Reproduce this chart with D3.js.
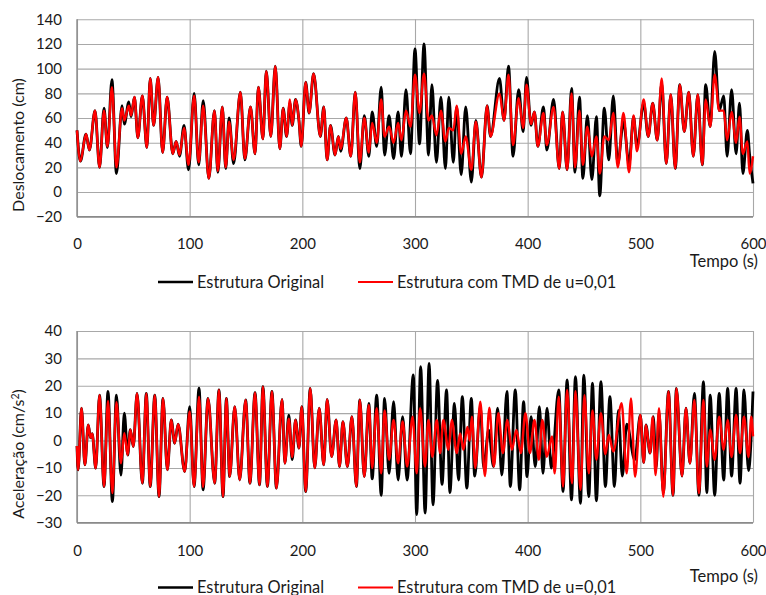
<!DOCTYPE html>
<html>
<head>
<meta charset="utf-8">
<script src="https://cdn.jsdelivr.net/npm/d3@7"></script>
<style>
  body { margin: 0; background: #ffffff; }
  svg text { font-family: Lato, "Open Sans", sans-serif; fill: #1a1a1a; }
</style>
</head>
<body>
<svg id="chart" width="766" height="595"></svg>
<script>
// Displacement (cm): both structures sampled at the same instants (s)
const dispTime = [
  0,3,8,11,16,20,24,27,31,35,
  40,42,46,48,51,54,58,62,65,68,
  72,76,80,85,88,91,95,99,104,108,
  112,117,122,125,129,132,135,139,145,149,
  154,158,161,165,168,172,176,180,183,186,
  189,191,194,197,199,203,206,210,216,219,
  222,225,229,232,234,239,243,247,251,255,
  259,262,266,270,273,277,281,285,288,292,
  296,300,304,308,312,315,319,323,327,330,
  334,337,341,345,350,354,359,364,367,375,
  379,383,387,392,396,399,403,406,409,414,
  417,423,428,431,435,439,442,446,449,453,
  457,461,464,468,472,476,480,485,490,494,
  497,503,507,511,515,519,523,527,531,535,
  539,543,547,551,555,558,562,566,570,574,
  577,581,585,588,591,595,597,600
];
const dispOriginal = [
  50,25,47,34,66,20,68,36,91,15,
  70,55,73,61,77,44,78,36,92,54,
  93,32,77,31,41,29,54,18,80,22,
  74,11,66,16,69,19,60,23,81,26,
  69,31,85,43,98,45,102,35,68,45,
  72,54,75,58,37,89,64,96,45,69,
  26,54,30,45,33,60,29,81,19,62,
  29,65,37,85,30,62,27,65,29,83,
  31,116,39,120,30,87,24,77,19,77,
  24,69,14,69,8,58,12,70,45,92,
  58,102,29,83,49,93,54,65,37,69,
  34,75,19,65,18,84,16,77,11,62,
  10,61,-3,68,26,78,23,57,23,61,
  37,72,45,72,42,88,23,79,19,87,
  49,81,29,79,22,87,53,114,66,78,
  29,83,31,72,15,50,30,7
];
const dispTmd = [
  50,25,47,34,66,20,66,37,85,20,
  68,58,70,62,77,44,78,36,92,54,
  93,32,77,31,41,30,52,22,78,24,
  70,11,66,17,69,20,57,26,81,27,
  69,31,85,43,98,45,102,35,68,45,
  75,54,75,58,37,89,64,96,45,69,
  26,54,30,45,35,60,29,81,24,60,
  32,56,40,75,45,53,40,56,42,66,
  53,95,64,96,58,62,46,66,41,52,
  50,70,31,45,18,57,12,70,45,80,
  58,95,38,76,52,87,55,65,37,64,
  38,69,19,65,18,80,20,66,22,53,
  29,45,15,45,42,64,20,64,16,62,
  33,75,45,72,42,92,23,79,19,87,
  49,81,29,79,22,75,53,95,66,66,
  42,65,40,61,31,41,15,29
];

// Acceleration (cm/s²), original structure
const accTimeOriginal = [
  0,1,4,7,10,12,13.5,16.6,20,24,
  27.5,31.4,35,39,42,45,47.3,50,53.3,58,
  61.5,65,69,72.8,76.3,80.2,83.7,86.7,89.7,95.6,
  100,103.9,108.3,111.9,116.3,122.2,126,129.6,132.6,135.5,
  140,144.4,149.7,153.5,158,162,165,169,173,177,
  182,184.5,188,191,194,197,199.5,203,207,211,
  215,219,222,226,230,233,236,240,244,248,
  251,255,259,262,266,270,273,277,281,285,
  289,293,298.5,301.5,305,309,312.5,316,320,324,
  328,331,335,338.6,342,346,350,353,358,361,
  365.3,369.7,373.3,377.1,381.6,384.6,389,392.9,396.4,399.4,
  403,406.8,410.4,413.6,417.2,421,427.6,431.4,435,438.9,
  442.4,446.9,449.8,454.3,457.5,461,465,469,473,477,
  480.5,484,488,495,500,503,505,508.6,511.5,514,
  516.6,520.4,525,529,532,537,540.5,544,548,552,
  556,559,562,566,570,574,577.5,581,585,588.5,
  592,596,600
];
const accOriginal = [
  -2,-10.7,11.8,-8.9,5.7,1,2.5,-10.1,16.6,-16.8,
  17.9,-22.3,16.6,-12.6,10,-5.3,4,-2.2,17.2,-15.6,
  17.2,-16.8,16.6,-20.5,15.4,-10.7,7.5,-1,6,-11.3,
  12.4,-16.8,19.1,-18,15.4,-15.6,18.5,-20.5,15.4,-13.2,
  12.4,-14.4,14.8,-15.6,17.5,-16.2,19.7,-16.8,17.9,-17.4,
  15,-8.3,9.3,-7,7.5,-2.8,12.4,-18.6,19,-10,
  11.8,-8.9,15,-5.9,7.5,-9.5,6.9,-9.5,8.7,-16.8,
  14.8,-13.2,13.6,-14,16.6,-20,15.4,-12,14.2,-14.4,
  8.7,-14.4,24,-27,27,-26.5,28.2,-23.5,22,-16,
  18.5,-19,13.6,-14.4,16,-17.4,15.4,-13,12.4,-10,
  3.9,-9.5,11.8,-12.6,17.9,-16.8,18.5,-18,14.2,-13.2,
  8.7,-9.5,12.4,-12,11.8,-10.1,18.5,-18.6,22.1,-21.7,
  23.3,-22.9,23.9,-20.5,21,-22,21.5,-16.8,16,-16.8,
  11,-13,6,-7,9.3,-8,5.7,-4.6,8.7,-10,
  10,-19,17.9,-20,19,-13,11.8,-8.3,17.2,-20,
  21.5,-19,16.6,-20,17.2,-14.4,19,-13,19,-15.6,
  18.5,-11,17.9
];

// Acceleration (cm/s²), structure with TMD
const accTimeTmd = [
  0,1,4,7,10,12,13.5,16.6,20,24,
  27.5,31.4,35,39,42,45,47.3,50,53.3,58,
  61.5,65,69,72.8,76.3,80.2,83.7,86.7,89.7,95.6,
  100,103.9,108.3,111.9,116.3,122.2,126,129.6,132.6,135.5,
  140,144.4,149.7,153.5,158,162,165,169,173,177,
  182,184.5,188,191,194,197,199.5,203,207,211,
  215,219,222,226,230,233,236,240,244,248,
  251,255,259,262,266,270,273,277,281,285,
  289,293,297.9,301.5,304.5,308.9,311.9,315.4,319.3,322.3,
  325.2,329.7,332.6,337.1,340,343,346.5,348.5,350.5,353.5,
  358,362,366,370,374,378,382,386,390,394,
  398,402,406,410,413,417,421.6,424,427.6,431.4,
  435,439.4,442.4,446.9,450.4,454.3,457.5,461,465,469,
  472,476,483.4,487.9,491.7,495.3,500,503,505,508.6,
  511,513.5,516.6,520.4,525,529,532,537,540.5,544,
  548,552,556,559,562,566,570,574,577.5,581,
  585,588.5,592,596,598.5,600
];
const accTmd = [
  -2,-10.7,11.8,-8.9,5.7,1,2.5,-10.1,16.6,-16.8,
  14.5,-19.2,14,-8.3,2.7,-5.3,4,-2.2,17.2,-15.6,
  17.2,-16.8,16.6,-20.5,15.4,-10.7,7.5,-1,6,-11.3,
  10.6,-16.8,16,-17,15.4,-15.6,18.5,-20.5,15.4,-13.2,
  12.4,-14.4,14.8,-15.6,17.5,-16.2,19.7,-16.8,17.9,-17.4,
  15,-8.3,8,-6,7.5,-2.8,12.4,-18.6,19,-10,
  11.8,-8.9,15,-5.9,7.5,-9.5,6.9,-9.5,8.7,-16.8,
  14.8,-13.2,13,-10,11.8,-12,11,-7,7.5,-8.3,
  7,-9.5,8.7,-12,11.8,-9.5,7.5,-5.9,7.5,-4.6,
  7.5,-3.4,7.5,-4.6,2.6,-3.4,5,0,8.7,-10,
  14.2,-13,12,-9.5,10,-4.6,7.5,-3.4,3.9,-4.6,
  10,-4.6,7.5,-7,7.5,-5.9,1.5,-12,16,-16.8,
  18.5,-15.6,18,-18,16.6,-12,11,-7,10,-5,
  2,-4,13.6,-12,15.4,-13.2,9.3,-8,5.7,-4.6,
  8.7,-12.6,11.8,-20.5,17.9,-20,19,-13,11.8,-8.3,
  14.8,-19.2,14.8,-9.5,4,-7,8.7,-3.4,7.5,-6,
  9.3,-4.6,8.7,-6,8.7,1.5
];

const timeTicks = [0, 100, 200, 300, 400, 500, 600];
const dispTicks = [-20, 0, 20, 40, 60, 80, 100, 120, 140];
const accTicks = [-30, -20, -10, 0, 10, 20, 30, 40];
const seriesNames = ["Estrutura Original", "Estrutura com TMD de u=0,01"];
const seriesColors = ["#000000", "#ff0000"];

const svg = d3.select("#chart");
const plotLeft = 77, plotRight = 753;

function drawPanel(cfg) {
  const g = svg.append("g");
  const x = d3.scaleLinear().domain([0, 600]).range([plotLeft, plotRight]);
  const y = d3.scaleLinear().domain(cfg.domain).range([cfg.bottom, cfg.top]);

  // horizontal gridlines
  g.append("g")
    .attr("transform", `translate(${plotLeft},0)`)
    .call(d3.axisLeft(y).tickValues(cfg.ticks).tickSize(-(plotRight - plotLeft)).tickFormat(""))
    .call(a => a.select(".domain").remove())
    .selectAll("line").attr("stroke", "#a8a8a8").attr("stroke-width", 1.1);

  // vertical gridlines
  g.append("g")
    .attr("transform", `translate(0,${cfg.bottom})`)
    .call(d3.axisBottom(x).tickValues(timeTicks).tickSize(-(cfg.bottom - cfg.top)).tickFormat(""))
    .call(a => a.select(".domain").remove())
    .selectAll("line").attr("stroke", "#a8a8a8").attr("stroke-width", 1.1);

  // axis lines
  g.append("line").attr("x1", plotLeft).attr("x2", plotLeft)
    .attr("y1", cfg.top).attr("y2", cfg.bottom).attr("stroke", "#8a8a8a").attr("stroke-width", 1.4);
  g.append("line").attr("x1", plotLeft).attr("x2", plotRight)
    .attr("y1", cfg.bottom).attr("y2", cfg.bottom).attr("stroke", "#8a8a8a").attr("stroke-width", 1.4);

  // y tick labels
  g.append("g")
    .attr("transform", `translate(${plotLeft},0)`)
    .call(d3.axisLeft(y).tickValues(cfg.ticks).tickSize(0).tickPadding(15))
    .call(a => a.select(".domain").remove())
    .selectAll("text").attr("font-size", 15).attr("fill", "#1a1a1a")
    .style("font-family", "Lato, sans-serif");

  // x tick labels
  g.append("g")
    .attr("transform", `translate(0,${cfg.bottom})`)
    .call(d3.axisBottom(x).tickValues(timeTicks).tickSize(0).tickPadding(cfg.xPad))
    .call(a => a.select(".domain").remove())
    .selectAll("text").attr("font-size", 15).attr("fill", "#1a1a1a")
    .style("font-family", "Lato, sans-serif");

  // series
  const line = d3.line().x(d => x(d[0])).y(d => y(d[1])).curve(d3.curveMonotoneX);
  cfg.series.forEach((s, i) => {
    const pts = s.t.map((t, k) => [t, s.v[k]]);
    g.append("path").datum(pts)
      .attr("d", line)
      .attr("fill", "none")
      .attr("stroke", seriesColors[i])
      .attr("stroke-width", i === 0 ? 2.8 : 2.4)
      .attr("stroke-linejoin", "round");
  });

  // y axis title
  g.append("text")
    .attr("transform", `translate(${cfg.titleX},${cfg.titleY}) rotate(-90)`)
    .attr("text-anchor", "middle")
    .attr("font-size", 16)
    .html(cfg.title);

  // x axis title
  g.append("text")
    .attr("x", 758).attr("y", cfg.tempoY)
    .attr("text-anchor", "end").attr("font-size", 16.5)
    .text("Tempo (s)");

  // legend
  const lg = g.append("g").attr("transform", `translate(0,${cfg.legendY})`);
  const legendX = [158, 358];
  seriesNames.forEach((name, i) => {
    lg.append("line").attr("x1", legendX[i]).attr("x2", legendX[i] + 35)
      .attr("y1", 0).attr("y2", 0)
      .attr("stroke", seriesColors[i]).attr("stroke-width", i === 0 ? 2.4 : 1.8);
    lg.append("text").attr("x", legendX[i] + 39).attr("y", 5.5)
      .attr("font-size", 16.4).text(name);
  });
}

drawPanel({
  top: 19.3, bottom: 216.7, domain: [-20, 140], ticks: dispTicks, xPad: 22,
  title: "Deslocamento (cm)", titleX: 24, titleY: 145,
  tempoY: 267, legendY: 282,
  series: [{ t: dispTime, v: dispOriginal }, { t: dispTime, v: dispTmd }]
});

drawPanel({
  top: 331, bottom: 522.7, domain: [-30, 40], ticks: accTicks, xPad: 23,
  title: 'Aceleração (cm/s<tspan dy="-5" font-size="10.5">2</tspan><tspan dy="5">)</tspan>',
  titleX: 24, titleY: 454,
  tempoY: 582, legendY: 587.5,
  series: [{ t: accTimeOriginal, v: accOriginal }, { t: accTimeTmd, v: accTmd }]
});
</script>
</body>
</html>
